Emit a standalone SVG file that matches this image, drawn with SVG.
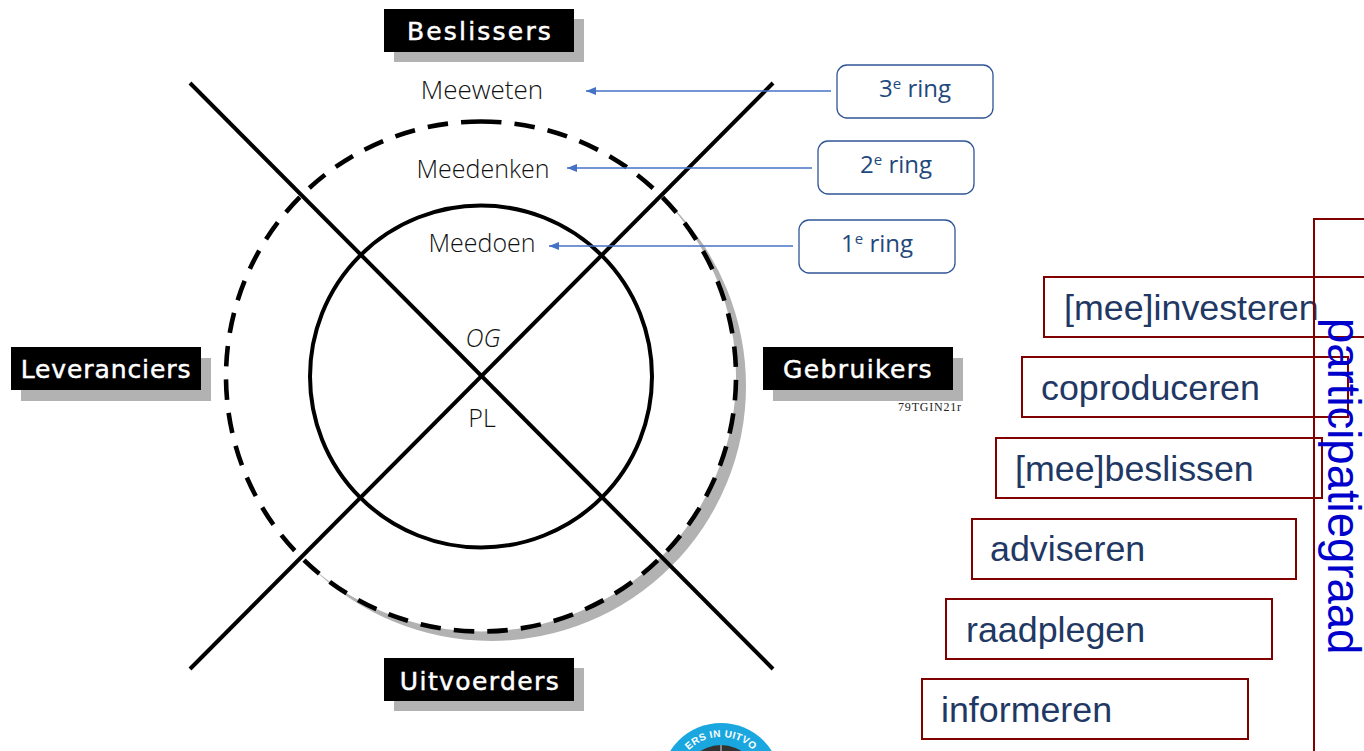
<svg xmlns="http://www.w3.org/2000/svg" width="1364" height="751" viewBox="0 0 1364 751">
<style>
.hand{font-family:"Open Sans","Noto Sans",sans-serif;font-weight:300;fill:#111;text-anchor:middle}
.lab{font-family:"DejaVu Sans",sans-serif;fill:#fff;stroke:#fff;stroke-width:.5;text-anchor:middle;font-size:25px}
.bar{fill:#000}
.shd{fill:#b2b2b2}
.ln{stroke:#000;stroke-width:4;fill:none}
.dash{stroke:#000;stroke-width:4.6;fill:none;stroke-dasharray:20.5 13.15}
.ar{stroke:#4472c4;stroke-width:1.5;fill:none;marker-end:url(#tri)}
.rb{fill:#fff;stroke:#2f5597;stroke-width:1.3}
.rt{font-family:"Open Sans","Noto Sans",sans-serif;font-size:24px;fill:#1f497d;text-anchor:middle}
.st{fill:none;stroke:#800000;stroke-width:2}
.pt{font-family:"Liberation Sans",Arial,sans-serif;font-size:35.8px;fill:#1f3864}
</style>
<defs>
<marker id="tri" markerUnits="userSpaceOnUse" markerWidth="11" markerHeight="10" refX="10" refY="4" orient="auto"><path d="M0 0L10 4L0 8Z" fill="#4472c4"/></marker>
<path id="logoArc" d="M 675 783 A 46 46 0 0 1 767 783"/>
</defs>

<g id="rings">
<circle cx="491" cy="386" r="255" class="shd"/>
<circle cx="481" cy="376.5" r="255" fill="#fff"/>
<circle cx="481" cy="376.5" r="255" class="dash" transform="rotate(-90 481 376.5)"/>
<circle cx="481" cy="376.5" r="171" class="ln"/>
</g>

<g id="connectors">
<path class="ln" d="M190 83L773 669"/>
<path class="ln" d="M773 83L190 669"/>
<path class="ar" d="M831 91H586"/>
<path class="ar" d="M812 168H567"/>
<path class="ar" d="M793 246H549"/>
</g>

<g id="beslissers"><rect class="shd" x="394" y="19" width="190" height="43"/><rect class="bar" x="384" y="9" width="190" height="43"/><text class="lab" x="480" y="40" letter-spacing="2.2">Beslissers</text></g>
<g id="leveranciers"><rect class="shd" x="21" y="358" width="190" height="43"/><rect class="bar" x="11" y="347" width="190" height="43"/><text class="lab" x="106" y="378" letter-spacing=".9">Leveranciers</text></g>
<g id="gebruikers"><rect class="shd" x="773" y="358" width="190" height="43"/><rect class="bar" x="763" y="347" width="190" height="43"/><text class="lab" x="858" y="378" letter-spacing="1.4">Gebruikers</text></g>
<g id="uitvoerders"><rect class="shd" x="394" y="668" width="190" height="43"/><rect class="bar" x="384" y="658" width="190" height="43"/><text class="lab" x="480" y="690" letter-spacing="1.4">Uitvoerders</text></g>
<text x="930" y="411" font-family="Liberation Serif,serif" font-size="12" fill="#222" text-anchor="middle" letter-spacing=".8">79TGIN21r</text>

<text class="hand" x="482" y="99" font-size="26">Meeweten</text>
<text class="hand" x="483" y="178" font-size="25">Meedenken</text>
<text class="hand" x="482" y="252" font-size="25">Meedoen</text>
<text class="hand" x="483" y="347" font-size="25" font-style="italic">OG</text>
<text class="hand" x="482" y="427" font-size="25">PL</text>

<g id="ring3"><rect class="rb" x="837" y="65" width="156" height="53" rx="10"/><text class="rt" x="915" y="97">3<tspan font-size="15" dy="-8">e</tspan><tspan dy="8"> ring</tspan></text></g>
<g id="ring2"><rect class="rb" x="818" y="141" width="156" height="53" rx="10"/><text class="rt" x="896" y="173">2<tspan font-size="15" dy="-8">e</tspan><tspan dy="8"> ring</tspan></text></g>
<g id="ring1"><rect class="rb" x="799" y="220" width="156" height="53" rx="10"/><text class="rt" x="877" y="252">1<tspan font-size="15" dy="-8">e</tspan><tspan dy="8"> ring</tspan></text></g>

<g id="logo">
<circle cx="721" cy="783" r="60" fill="#1aa7e0"/>
<circle cx="721" cy="783" r="38" fill="#333"/>
<path d="M721 745V751" stroke="#ddd" stroke-width="1"/>
<text font-family="Liberation Sans,sans-serif" font-size="10" font-weight="700" fill="#fff" letter-spacing=".4" text-anchor="middle"><textPath href="#logoArc" startOffset="50%">ERS IN UITVO</textPath></text>
</g>

<g id="trap-investeren"><rect class="st" x="1044" y="277" width="330" height="60"/><text class="pt" x="1064" y="320">[mee]investeren</text></g>
<g id="trap-coproduceren"><rect class="st" x="1022" y="357" width="326" height="60"/><text class="pt" x="1041" y="400">coproduceren</text></g>
<g id="trap-beslissen"><rect class="st" x="996" y="438" width="326" height="60"/><text class="pt" x="1015" y="481">[mee]beslissen</text></g>
<g id="trap-adviseren"><rect class="st" x="972" y="519" width="324" height="60"/><text class="pt" x="990" y="561">adviseren</text></g>
<g id="trap-raadplegen"><rect class="st" x="946" y="599" width="326" height="60"/><text class="pt" x="966" y="642">raadplegen</text></g>
<g id="trap-informeren"><rect class="st" x="922" y="679" width="326" height="60"/><text class="pt" x="941" y="722">informeren</text></g>
<g id="participatiegraad"><rect class="st" x="1314" y="219" width="70" height="550"/><text transform="translate(1328 318) rotate(90)" font-family="Liberation Sans,Arial,sans-serif" font-size="45.5" fill="#0000cd">participatiegraad</text></g>
</svg>
